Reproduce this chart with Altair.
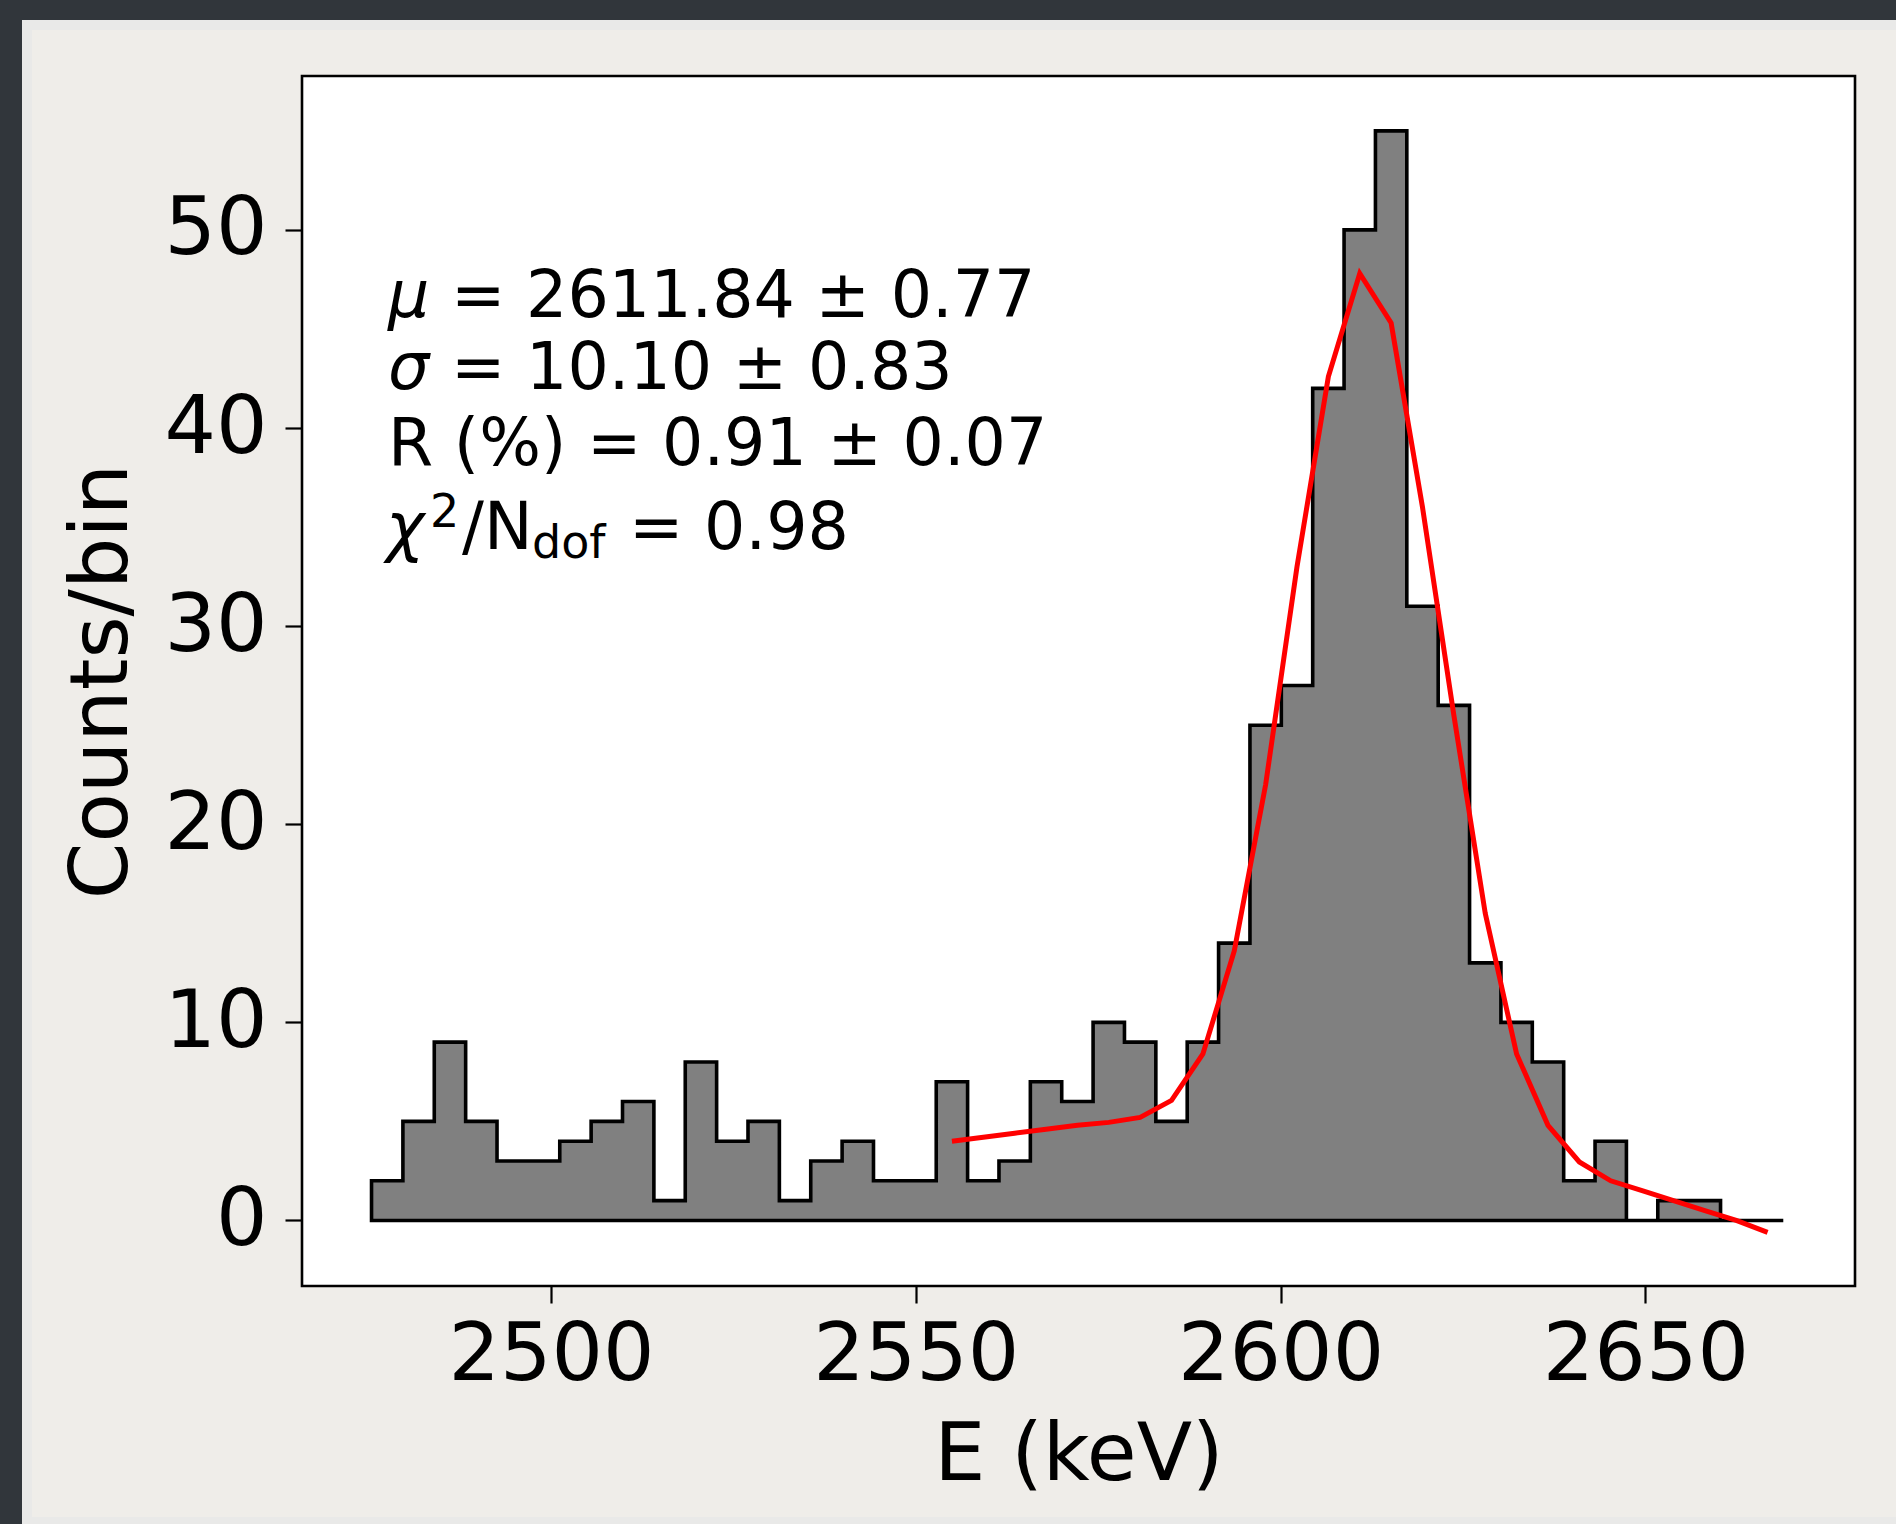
import altair as alt
import pandas as pd

# ---- histogram of reconstructed energies ----
counts = [2, 5, 9, 5, 3, 3, 4, 5, 6, 1,
          8, 4, 5, 1, 3, 4, 2, 2, 7, 2,
          3, 7, 6, 10, 9, 5, 9, 14, 25, 27,
          42, 50, 55, 31, 26, 13, 10, 8, 2, 4,
          0, 1, 1, 0, 0]
bin_start = 2475.4   # keV, lower edge of the first bin
bin_width = 4.3      # keV

# ---- fitted model, evaluated at the centres of bins 19..45 ----
fit_first_bin = 18
fit_values = [4.0, 4.2, 4.4, 4.6, 4.8, 4.95, 5.2, 6.06, 8.4, 13.6,
              22.0, 33.0, 42.6, 47.8, 45.3, 36.0, 25.5, 15.5, 8.4, 4.8,
              2.95, 2.0, 1.5, 1.0, 0.5, 0.0, -0.6]

x_ticks = [2500, 2550, 2600, 2650]
y_ticks = [0, 10, 20, 30, 40, 50]

fit_lines = ["2611.84 \u00b1 0.77", "10.10 \u00b1 0.83",
             "R (%) = 0.91 \u00b1 0.07", "0.98"]

# ---- tables ----
edges = [bin_start + i * bin_width for i in range(len(counts) + 1)]
hist_df = pd.DataFrame({"E": edges, "n": counts + [0]})
centers = [bin_start + (i + 0.5) * bin_width for i in range(fit_first_bin, len(counts))]
fit_df = pd.DataFrame({"E": centers, "f": fit_values})
one = pd.DataFrame({"k": [0]})

# ---- layout ----
W, H = 1553, 1210
PAD_L, PAD_T, PAD_R, PAD_B = 302, 76, 41, 238
FONT = "DejaVu Sans"
DARK = "#31363b"
RIM = "#e9e9e8"

x_scale = alt.Scale(domain=[2465.87, 2678.73], nice=False, zero=False)
y_scale = alt.Scale(domain=[-3.31, 57.77], nice=False, zero=False)

x_axis = alt.Axis(values=x_ticks, format="d", title="E (keV)",
                  labelPadding=12, titlePadding=20, labelLimit=0)
y_axis = alt.Axis(values=y_ticks, format="d", title="Counts/bin",
                  labelPadding=18, titlePadding=20, labelLimit=0)


def strip(x0, x1, y0, y1, color):
    return alt.Chart(one).mark_rect(color=color).encode(
        x=alt.value(x0), x2=alt.value(x1), y=alt.value(y0), y2=alt.value(y1))


right = 1896 - PAD_L
bottom = 1524 - PAD_T
border = [
    strip(-PAD_L, right, -PAD_T, -56, DARK),
    strip(-280, right, -56, -46, RIM),
    strip(-PAD_L, -280, -PAD_T, bottom, DARK),
    strip(-280, -270, -56, bottom, RIM),
    strip(-270, right, 1441, bottom, RIM),
]

hist = alt.Chart(hist_df).mark_area(
    interpolate="step-after", fill="#808080", stroke="black",
    strokeWidth=3.6, strokeJoin="miter"
).encode(
    x=alt.X("E:Q", scale=x_scale, axis=x_axis),
    y=alt.Y("n:Q", scale=y_scale, axis=y_axis),
    y2=alt.datum(0),
)

fit = alt.Chart(fit_df).mark_line(color="#ff0000", strokeWidth=5).encode(
    x=alt.X("E:Q", scale=x_scale),
    y=alt.Y("f:Q", scale=y_scale),
)


def label(txt, x, y, size=65, italic=False):
    kw = dict(align="left", baseline="alphabetic", font=FONT,
              fontSize=size, color="black")
    if italic:
        kw["fontStyle"] = "italic"
    return alt.Chart(one).mark_text(**kw).encode(
        x=alt.value(x), y=alt.value(y), text=alt.value(txt))


texts = [
    label("\u03bc", 86, 241, italic=True),
    label("= " + fit_lines[0], 149, 241),
    label("\u03c3", 86, 313, italic=True),
    label("= " + fit_lines[1], 149, 313),
    label(fit_lines[2], 86, 389),
    label("\u03c7", 84, 473, italic=True),
    label("2", 128, 451, size=46),
    label("/N", 160, 473),
    label("dof", 230, 482, size=46),
    label("= " + fit_lines[3], 327, 473),
]

chart = alt.layer(*border, hist, fit, *texts).properties(
    width=W, height=H,
    padding={"left": PAD_L, "top": PAD_T, "right": PAD_R, "bottom": PAD_B},
    autosize=alt.AutoSizeParams(type="none"),
).configure(
    background="#efede9",
).configure_view(
    fill="white", stroke="black", strokeWidth=2.6,
).configure_axis(
    domain=False, grid=False,
    labelFont=FONT, labelFontSize=81, labelColor="black",
    titleFont=FONT, titleFontSize=81, titleFontWeight="normal", titleColor="black",
    tickColor="black", tickWidth=2.2, tickSize=17,
)

chart.save("out.html", embed_options={"renderer": "svg", "actions": False})
